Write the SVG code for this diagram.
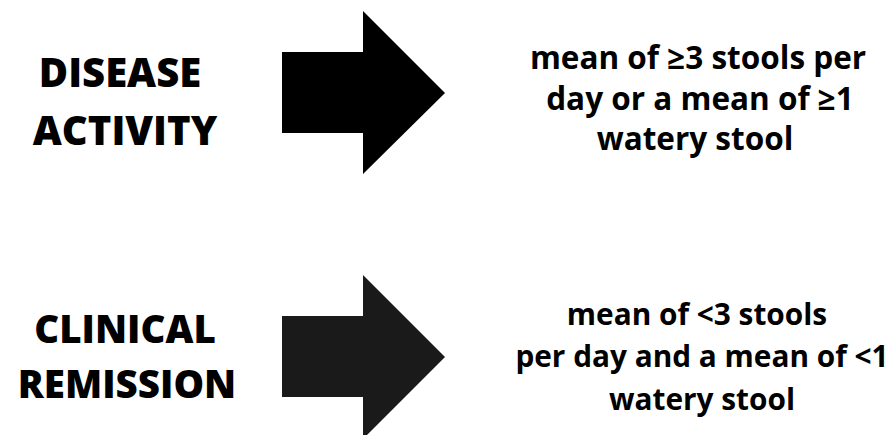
<svg xmlns="http://www.w3.org/2000/svg" width="890" height="435" viewBox="0 0 890 435">
<style>
.lbl{font-family:"Open Sans","Liberation Sans",sans-serif;font-weight:800;font-size:40px;fill:#000;text-anchor:middle}
.lbl2{font-size:38.5px}
.desc{font-family:"Open Sans","Liberation Sans",sans-serif;font-weight:700;font-size:31.5px;fill:#000;text-anchor:middle}
.desc2{font-size:29.8px}
</style>
<rect width="890" height="435" fill="#fff"/>
<g id="disease-activity">
<text class="lbl" x="120" y="87">DISEASE</text>
<text class="lbl" x="125" y="145">ACTIVITY</text>
</g>
<g id="clinical-remission">
<text class="lbl lbl2" x="125" y="343">CLINICAL</text>
<text class="lbl lbl2" x="127" y="398">REMISSION</text>
</g>
<g id="activity-criteria">
<text class="desc" x="698" y="69">mean of ≥3 stools per</text>
<text class="desc" x="700" y="110">day or a mean of ≥1</text>
<text class="desc" x="695" y="150">watery stool</text>
</g>
<g id="remission-criteria">
<text class="desc desc2" x="697" y="325">mean of &lt;3 stools</text>
<text class="desc desc2" x="702" y="367">per day and a mean of &lt;1</text>
<text class="desc desc2" x="702" y="410">watery stool</text>
</g>
<g id="connectors">
<polygon points="282,52 363,52 363,11 445,93 363,174 363,133 282,133" fill="#000"/>
<polygon points="282,316 363,316 363,275 445,357 363,439 363,397 282,397" fill="#1a1a1a"/>
</g>
</svg>
